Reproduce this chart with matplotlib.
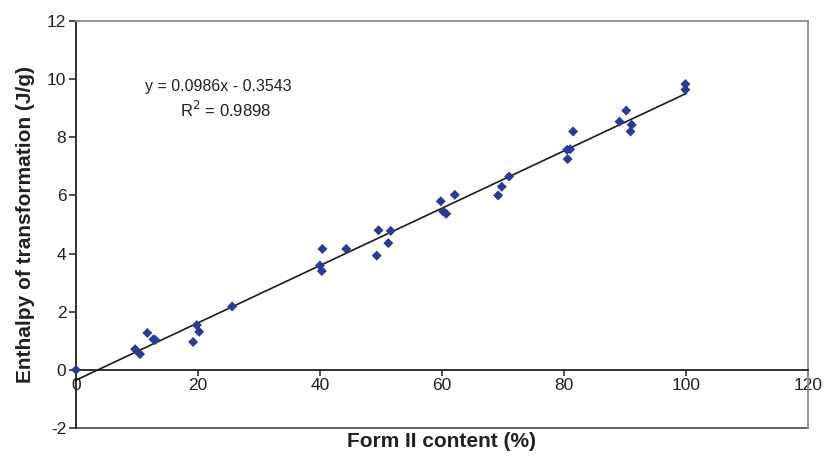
"""
Enthalpy of transformation vs Form II content, with linear trendline.
"""

import numpy as np
import matplotlib
matplotlib.use("Agg")
import matplotlib.pyplot as plt

plt.rcParams['font.family'] = ['Liberation Sans', 'DejaVu Sans']
plt.rcParams['axes.unicode_minus'] = False

# Data
form2_content = [0.0, 9.7, 10.5, 11.7, 12.7, 13.0, 19.2, 19.8, 20.2, 25.6,
                 40.0, 40.3, 40.4, 44.3, 49.3, 49.6, 51.2, 51.6,
                 59.8, 60.2, 60.7, 62.1, 69.2, 69.8, 71.0,
                 80.5, 80.6, 81.0, 81.5, 89.1, 90.2, 90.9, 91.1, 99.9, 99.9]
enthalpy = [0.0, 0.71, 0.54, 1.27, 1.05, 1.03, 0.96, 1.54, 1.31, 2.18,
            3.59, 3.40, 4.16, 4.16, 3.93, 4.80, 4.36, 4.78,
            5.80, 5.45, 5.37, 6.02, 6.00, 6.30, 6.65,
            7.57, 7.25, 7.59, 8.20, 8.54, 8.92, 8.20, 8.43, 9.83, 9.64]

# Trendline (as reported on the chart)
SLOPE = 0.0986
INTERCEPT = -0.3543
R2 = 0.9898

x_ticks = [0, 20, 40, 60, 80, 100, 120]
y_ticks = [-2, 0, 2, 4, 6, 8, 10, 12]

text_color = '#231f20'
frame_color = '#8c8c8c'

fig = plt.figure(figsize=(8.25, 4.59), dpi=100)
ax = fig.add_axes([0.0921, 0.0675, 0.8873, 0.8867])

# trendline
fit_x = np.array([0, 100])
ax.plot(fit_x, SLOPE * fit_x + INTERCEPT, color='#1a1a1a', lw=1.2, zorder=2)

# data points
ax.scatter(form2_content, enthalpy, marker='D', s=26, color='#2b3a96',
           edgecolors='none', zorder=3, clip_on=False)

ax.set_xlim(0, 120)
ax.set_ylim(-2, 12)
ax.set_xticks(x_ticks)
ax.set_yticks(y_ticks)

# x axis crosses at y = 0, plot area border in grey
ax.spines['bottom'].set_position(('data', 0))
ax.spines['bottom'].set_color(text_color)
ax.spines['left'].set_color(text_color)
ax.spines['top'].set_color(frame_color)
ax.spines['right'].set_color(frame_color)
for sp in ax.spines.values():
    sp.set_linewidth(1.3)
ax.axhline(-2, color='#555555', lw=1.3, clip_on=False)

ax.tick_params(axis='x', direction='out', length=4, width=1.1,
               colors=text_color, labelsize=12.5, pad=2)
ax.tick_params(axis='y', direction='out', length=5, width=1.1,
               colors=text_color, labelsize=12.5, pad=2)

ax.set_xlabel('Form II content (%)', fontsize=15, fontweight='bold',
              color=text_color, va='top')
ax.xaxis.set_label_coords(0.5, -0.01)
ax.set_ylabel('Enthalpy of transformation (J/g)', fontsize=15,
              fontweight='bold', color=text_color)
ax.yaxis.set_label_coords(-0.056, 0.5)

ax.text(0.195, 0.838, f'y = {SLOPE}x - {abs(INTERCEPT)}', transform=ax.transAxes,
        ha='center', va='center', fontsize=11.5, color=text_color)
ax.text(0.205, 0.781, f'R$^2$ = {R2}', transform=ax.transAxes,
        ha='center', va='center', fontsize=12, color=text_color)

fig.savefig('out.png', dpi=100)
